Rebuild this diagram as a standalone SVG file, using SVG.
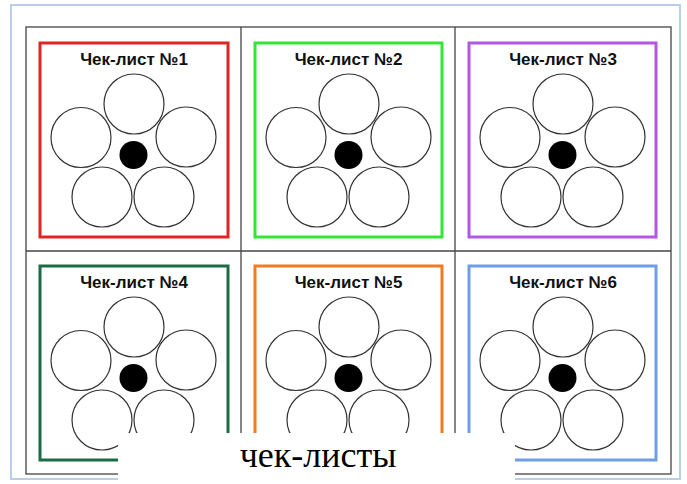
<svg xmlns="http://www.w3.org/2000/svg" xmlns:xlink="http://www.w3.org/1999/xlink" width="687" height="484" viewBox="0 0 687 484">
<style>
.title{font-family:"Liberation Sans",Arial,sans-serif;font-weight:bold;font-size:17px;fill:#111;text-anchor:middle}
.ring{fill:#fff;stroke:#333;stroke-width:1.2}
.dot{fill:#000}
.frame{fill:none;stroke-width:3}
.grid{fill:none;stroke:#444;stroke-width:1.3}
.caption{font-family:"Liberation Serif","Times New Roman",serif;font-size:36px;fill:#000;text-anchor:middle}
</style>
<defs>
<g id="flower">
<circle class="ring" cx="94" cy="61" r="30"/>
<circle class="ring" cx="41" cy="94.5" r="30"/>
<circle class="ring" cx="146" cy="94" r="30"/>
<circle class="ring" cx="62" cy="154" r="30"/>
<circle class="ring" cx="124" cy="154" r="30"/>
<circle class="dot" cx="93.5" cy="112" r="14"/>
</g>
</defs>
<rect x="0" y="0" width="687" height="484" fill="#fff"/>
<rect x="11" y="5" width="669" height="474" fill="#fff" stroke="#b9cfe9" stroke-width="2"/>
<g id="grid">
<rect class="grid" x="26" y="27" width="645" height="447"/>
<line class="grid" x1="241" y1="27" x2="241" y2="474"/>
<line class="grid" x1="455" y1="27" x2="455" y2="474"/>
<line class="grid" x1="26" y1="251" x2="671" y2="251"/>
</g>
<g id="checklist1">
<rect class="frame" x="40" y="43" width="188" height="194" stroke="#e02424"/>
<text class="title" x="134" y="64.5">Чек-лист №1</text>
<use xlink:href="#flower" x="40" y="43"/>
</g>
<g id="checklist2">
<rect class="frame" x="255" y="43" width="187" height="194" stroke="#35e535"/>
<text class="title" x="348.5" y="64.5">Чек-лист №2</text>
<use xlink:href="#flower" x="255" y="43"/>
</g>
<g id="checklist3">
<rect class="frame" x="469" y="43" width="187" height="194" stroke="#b357e3"/>
<text class="title" x="563" y="64.5">Чек-лист №3</text>
<use xlink:href="#flower" x="469" y="43"/>
</g>
<g id="checklist4">
<rect class="frame" x="40" y="266" width="188" height="194" stroke="#1d6b45"/>
<text class="title" x="134" y="287.5">Чек-лист №4</text>
<use xlink:href="#flower" x="40" y="266"/>
</g>
<g id="checklist5">
<rect class="frame" x="255" y="266" width="187" height="194" stroke="#ec7d24"/>
<text class="title" x="348.5" y="287.5">Чек-лист №5</text>
<use xlink:href="#flower" x="255" y="266"/>
</g>
<g id="checklist6">
<rect class="frame" x="469" y="266" width="187" height="194" stroke="#6e9ee6"/>
<text class="title" x="563" y="287.5">Чек-лист №6</text>
<use xlink:href="#flower" x="469" y="266"/>
</g>
<g id="caption">
<rect x="118" y="433" width="397" height="51" fill="#fff"/>
<text class="caption" x="318" y="467">чек-листы</text>
</g>
</svg>
